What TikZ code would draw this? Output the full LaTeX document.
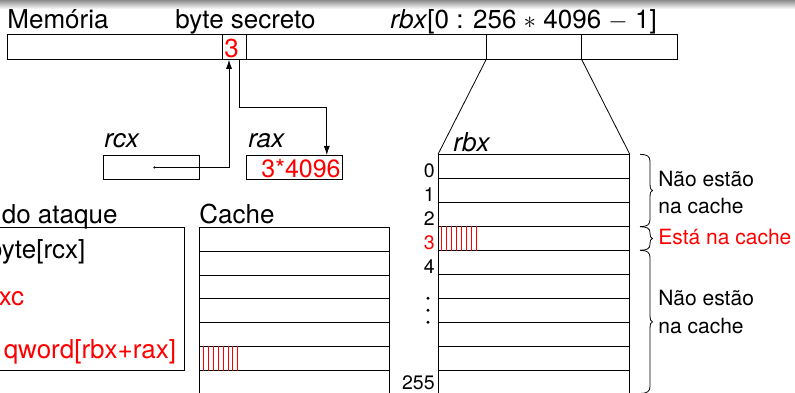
\documentclass[tikz,border=0pt]{standalone}
\usepackage{fontspec}
\setmainfont{TeX Gyre Heros}
\usetikzlibrary{calc,arrows.meta}
\newcommand\mybrace[3]{%
  \pgfmathsetmacro\bym{(#2+#3)/2}%
  \pgfmathsetmacro\byr{min(7,(#3-#2)/4)}%
  \draw[bracestyle] (#1,#2) .. controls (#1+7,#2) and (#1+10,#2+0.3*\byr) .. (#1+10,#2+\byr)
    -- (#1+10,\bym-\byr) .. controls (#1+10,\bym-0.3*\byr) and (#1+11,\bym) .. (#1+12.5,\bym)
    .. controls (#1+11,\bym) and (#1+10,\bym+0.3*\byr) .. (#1+10,\bym+\byr)
    -- (#1+10,#3-\byr) .. controls (#1+10,#3-0.3*\byr) and (#1+7,#3) .. (#1,#3);}
\begin{document}
\begin{tikzpicture}[x=1pt,y=-1pt, line width=0.8pt,
  big/.style={font=\fontsize{26}{31}\selectfont, inner sep=0pt},
  mid/.style={font=\fontsize{21}{25}\selectfont, inner sep=0pt},
  sml/.style={font=\fontsize{19.5}{23}\selectfont, inner sep=0pt},
  box/.style={draw, inner sep=0pt, anchor=north west},
  arr/.style={-{Latex[length=9pt,width=6pt]}},
  hatch/.style={red, line width=0.6pt},
  bracestyle/.style={line width=0.8pt}]
\useasboundingbox (0,0) rectangle (795,393);
\shade[top color=black!45, bottom color=white] (0,0) rectangle (795,9);

% memory bar
\node[box, minimum width=670pt, minimum height=25pt] (mem) at (7,34) {};
\node[box, minimum width=24pt, minimum height=25pt] (sec) at (222,34) {};
\node[box, minimum width=95pt, minimum height=25pt] (rbxmem) at (486,34) {};
\node[big, anchor=base west, red] (three) at (224,58) {3};

\node[big, anchor=base west] (lmem) at (7,29) {Memória};
\node[big, anchor=base west] (lsec) at (175,29) {byte secreto};
\node[big, anchor=base west] (lrbx) at (390,29) {\textit{rbx}[0 : 256 $\ast$ 4096 $-$ 1]};

% registers
\node[box, minimum width=96pt, minimum height=24pt] (rcx) at (103,155) {};
\node[big, anchor=base west] (lrcx) at (104,147) {\textit{rcx}};
\node[box, minimum width=96pt, minimum height=24pt] (rax) at (246,155) {};
\node[big, anchor=base west] (lrax) at (248,147) {\textit{rax}};
\node[big, anchor=base west, red, font=\fontsize{25}{30}\selectfont] (vrax) at (261,177) {3*4096};

\coordinate (rcxdot) at ($(rcx.center)+(3,0)$);
\fill (rcxdot) circle (1.2pt);
\draw[arr] (rcxdot) -| ($(sec.south west)+(7,0)$);
\draw[arr] ($(sec.south east)+(-7,0)$) -- ++(0,48) -| ($(rax.north east)+(-16,0)$);

% code box
\node[box, minimum width=294pt, minimum height=143pt] (code) at (-110,227) {};
\node[big, anchor=base east] (lcode) at (118,223) {Código do ataque};
\node[big, anchor=base west] (i1) at (-103,258) {mov al, byte[rcx]};
\node[big, anchor=base west, red] (i2) at (-107,305) {shl rax, 0xc};
\node[big, anchor=base west, red] (i3) at (-103,358) {mov rbx, qword[rbx+rax]};

% cache
\node[big, anchor=base west] (lcache) at (199,223) {Cache};
\foreach \i in {0,...,6}
  \node[box, minimum width=190pt, minimum height=23.9pt] (c\i) at (199,{226.7+23.9*\i}) {};
\foreach \k in {0,...,7}
  \draw[hatch] ($(c5.north west)+({4.3+4.9*\k},0)$) -- ($(c5.south west)+({4.3+4.9*\k},0)$);

% rbx array
\foreach \i in {0,...,9}
  \node[box, minimum width=191pt, minimum height=24pt] (r\i) at (438,{154.3+24*\i}) {};
\foreach \k in {0,...,7}
  \draw[hatch] ($(r3.north west)+({3.7+5*\k},0)$) -- ($(r3.south west)+({3.7+5*\k},0)$);
\draw (rbxmem.south west) -- (r0.north west);
\draw (rbxmem.south east) -- (r0.north east);
\node[big, anchor=base west] (lrbxa) at (453,151) {\textit{rbx}};

\foreach \i in {0,1,2,4}
  \node[sml, anchor=base east] (n\i) at ($(r\i.south west)+(-3,-1.5)$) {\i};
\node[sml, anchor=base east, red] (n3) at ($(r3.south west)+(-3,-1.5)$) {3};
\node[sml, anchor=base east] (n255) at ($(r9.south west)+(-3,-6)$) {255};
\foreach \y in {298.3,310.3,322.3}
  \fill (428,\y) circle (1.6pt);

% braces
\mybrace{640}{154.3}{226.7}
\mybrace{640}{226.7}{250.3}
\mybrace{640}{250.3}{393.5}

\node[mid, anchor=base west] (t1) at (658,186) {Não estão};
\node[mid, anchor=base west] (t2) at (658,213) {na cache};
\node[mid, anchor=base west, red] (t3) at (658,244) {Está na cache};
\node[mid, anchor=base west] (t4) at (658,305.7) {Não estão};
\node[mid, anchor=base west] (t5) at (658,333) {na cache};
\end{tikzpicture}
\end{document}
